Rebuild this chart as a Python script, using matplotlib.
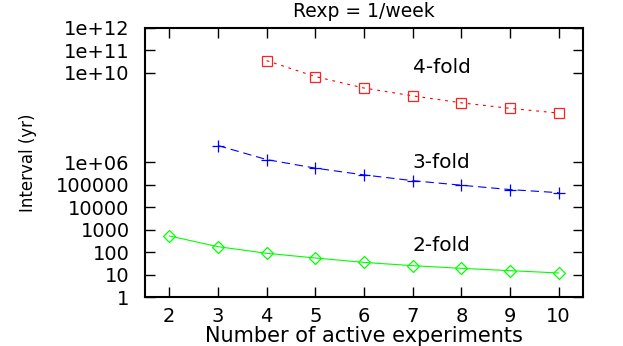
import matplotlib
matplotlib.use("Agg")
import matplotlib.pyplot as plt

plt.rcParams['font.family'] = ['DejaVu Sans']
plt.rcParams['lines.scale_dashes'] = False

# data (interval in years)
n_exp_2 = [2, 3, 4, 5, 6, 7, 8, 9, 10]
fold2 = [530, 176, 89, 55, 35, 25, 19, 15, 11.8]
n_exp_3 = [3, 4, 5, 6, 7, 8, 9, 10]
fold3 = [5.7e6, 1.35e6, 5.6e5, 2.8e5, 1.55e5, 9.7e4, 6.2e4, 4.5e4]
n_exp_4 = [4, 5, 6, 7, 8, 9, 10]
fold4 = [3.5e10, 6.8e9, 2.1e9, 9.4e8, 4.6e8, 2.6e8, 1.6e8]

yticks = [1, 10, 100, 1000, 1e4, 1e5, 1e6, 1e10, 1e11, 1e12]
ytick_labels = ['1', '10', '100', '1000', '10000', '100000', '1e+06',
                '1e+10', '1e+11', '1e+12']
xticks = list(range(2, 11))

fig = plt.figure(figsize=(6.23, 3.46), dpi=100)
ax = fig.add_axes([0.2327, 0.1416, 0.7031, 0.7775])

ax.plot(n_exp_2, fold2, color='#00ff00', lw=0.8, marker='D', ms=6.5,
        mfc='none', mec='#00ff00', mew=0.9)
ax.plot(n_exp_3, fold3, color='#0000ff', lw=0.8, dashes=(6, 3.5), marker='+',
        ms=8, mew=0.9)
ax.plot(n_exp_4, fold4, color='#ff0000', lw=0.8, dashes=(2, 3.5), marker='s',
        ms=6.5, mfc='none', mec='#ff2020', mew=0.9)

ax.text(7, 1.8e10, '4-fold', fontsize=14.5, ha='left', va='center')
ax.text(7, 1e6, '3-fold', fontsize=14.5, ha='left', va='center')
ax.text(7, 190, '2-fold', fontsize=14.5, ha='left', va='center')

ax.set_yscale('log')
ax.set_xlim(1.5, 10.5)
ax.set_ylim(1, 1e12)
ax.set_yticks(yticks)
ax.set_yticklabels(ytick_labels)
ax.minorticks_off()
ax.set_xticks(xticks)
ax.tick_params(direction='in', length=7, width=1, labelsize=14,
               top=True, right=True)
ax.tick_params(axis='y', pad=11)
ax.tick_params(axis='x', pad=7)
for s in ax.spines.values():
    s.set_linewidth(1.5)

ax.set_title('Rexp = 1/week', fontsize=13.5, pad=8)
ax.set_xlabel('Number of active experiments', fontsize=15, labelpad=0)
ax.set_ylabel('Interval (yr)', fontsize=12, labelpad=14)

fig.savefig('out.png', dpi=100)
